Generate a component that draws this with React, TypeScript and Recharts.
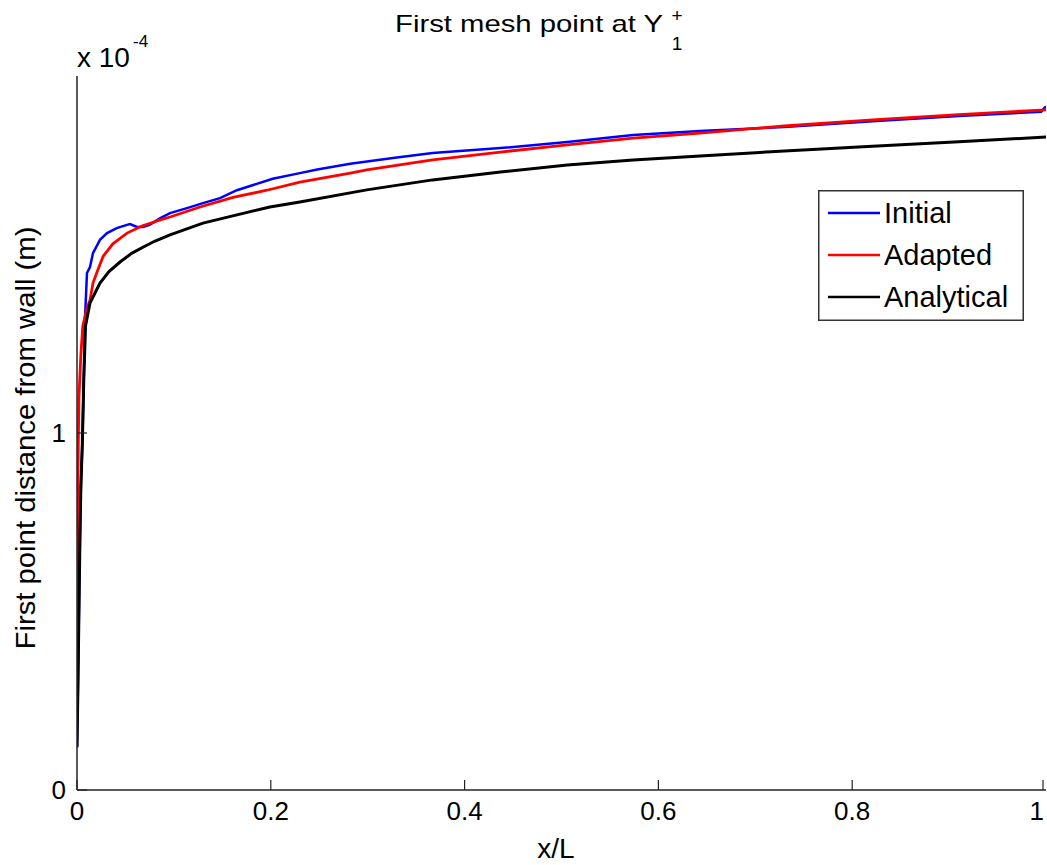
import React from "react";
import { LineChart, Line, XAxis, YAxis, Legend } from "recharts";

// ----- data (y in units of 1e-4 m) -----
const initialX = [0, 0.001, 0.002, 0.003, 0.004, 0.0055, 0.007, 0.0083, 0.0103, 0.0134, 0.0165, 0.0237, 0.031, 0.041, 0.0516, 0.0547, 0.062, 0.068, 0.075, 0.086, 0.096, 0.1135, 0.13, 0.1476, 0.165, 0.202, 0.23, 0.248, 0.282, 0.33, 0.367, 0.437, 0.506, 0.574, 0.643, 0.73, 0.821, 0.91, 0.995, 1.0];
const initialY = [0.12, 0.3, 0.5, 0.7, 0.85, 0.97, 1.15, 1.325, 1.448, 1.465, 1.504, 1.541, 1.56, 1.574, 1.583, 1.585, 1.577, 1.577, 1.583, 1.602, 1.616, 1.63, 1.644, 1.658, 1.68, 1.712, 1.728, 1.738, 1.754, 1.772, 1.784, 1.798, 1.815, 1.835, 1.846, 1.857, 1.873, 1.888, 1.9, 1.915];

const adaptedX = [0, 0.0005, 0.001, 0.002, 0.004, 0.006, 0.0103, 0.0134, 0.0165, 0.0206, 0.027, 0.037, 0.0516, 0.067, 0.086, 0.096, 0.127, 0.161, 0.196, 0.23, 0.282, 0.299, 0.367, 0.437, 0.506, 0.574, 0.643, 0.73, 0.821, 0.91, 1.0];
const adaptedY = [0.46, 0.6, 0.9, 1.1, 1.22, 1.3, 1.35, 1.372, 1.42, 1.45, 1.495, 1.53, 1.56, 1.58, 1.597, 1.605, 1.633, 1.66, 1.68, 1.703, 1.728, 1.737, 1.765, 1.787, 1.807, 1.826, 1.84, 1.86, 1.877, 1.892, 1.905];

const analyticalX = [0, 0.001, 0.002, 0.003, 0.004, 0.0055, 0.007, 0.0088, 0.0134, 0.0237, 0.033, 0.0444, 0.0568, 0.07, 0.08, 0.096, 0.13, 0.165, 0.199, 0.23, 0.299, 0.367, 0.437, 0.506, 0.574, 0.643, 0.73, 0.821, 0.91, 1.0];
const analyticalY = [0.12, 0.3, 0.5, 0.7, 0.85, 0.97, 1.15, 1.3, 1.364, 1.42, 1.452, 1.479, 1.504, 1.523, 1.537, 1.555, 1.588, 1.611, 1.633, 1.647, 1.681, 1.709, 1.731, 1.751, 1.765, 1.776, 1.79, 1.803, 1.816, 1.829];

const xTicks = [0, 0.2, 0.4, 0.6, 0.8, 1];
const yTicks = [0, 1];

const seriesNames = ["Initial", "Adapted", "Analytical"];
const seriesColors = ["#0000ff", "#ff0000", "#000000"];

const toPoints = (xs: number[], ys: number[]) => xs.map((x, i) => ({ x, y: ys[i] }));

const initialData = toPoints(initialX, initialY);
const adaptedData = toPoints(adaptedX, adaptedY);
const analyticalData = toPoints(analyticalX, analyticalY);

const FONT = "'Liberation Sans', Arial, Helvetica, sans-serif";

// MATLAB style ticks: mark points inward, label below / left
const XTick = (props: any) => {
  const { x, y, payload, index } = props;
  const last = index === xTicks.length - 1;
  return (
    <g>
      <line x1={x} x2={x} y1={y} y2={y - 10} stroke="#222" strokeWidth={1.2} />
      <text
        x={last ? x + 1 : x}
        y={y + 30}
        textAnchor={last ? "end" : "middle"}
        fontFamily={FONT}
        fontSize={26}
        fill="#000"
      >
        {String(payload.value)}
      </text>
    </g>
  );
};

const YTick = (props: any) => {
  const { x, y, payload } = props;
  return (
    <g>
      <line x1={x} x2={x + 10} y1={y} y2={y} stroke="#222" strokeWidth={1.2} />
      <text x={x - 11} y={y + 9} textAnchor="end" fontFamily={FONT} fontSize={26} fill="#000">
        {String(payload.value)}
      </text>
    </g>
  );
};

const LegendBox = () => (
  <svg width={206} height={131} style={{ display: "block" }}>
    <rect x={0.75} y={0.75} width={204.5} height={129.5} fill="#fff" stroke="#333" strokeWidth={1.5} />
    {seriesNames.map((name, i) => (
      <g key={name}>
        <line x1={10} x2={62} y1={23 + i * 42} y2={23 + i * 42} stroke={seriesColors[i]} strokeWidth={2.5} />
        <text x={66} y={33 + i * 42} fontFamily={FONT} fontSize={29} fill="#000">
          {name}
        </text>
      </g>
    ))}
  </svg>
);

export default function App() {
  return (
    <div style={{ position: "absolute", left: 0, top: 0, width: 1047, height: 865, background: "#fff" }}>
      <LineChart width={1047} height={865} margin={{ top: 76, right: 1, bottom: 0, left: 0 }}>
        <XAxis
          type="number"
          dataKey="x"
          domain={[0, 1]}
          ticks={xTicks}
          allowDataOverflow
          height={75}
          tickSize={0}
          tickMargin={0}
          tickLine={false}
          axisLine={{ stroke: "#222", strokeWidth: 1.5 }}
          tick={<XTick />}
        />
        <YAxis
          type="number"
          domain={[0, 2]}
          ticks={yTicks}
          allowDataOverflow
          width={77}
          tickSize={0}
          tickMargin={0}
          tickLine={false}
          axisLine={{ stroke: "#222", strokeWidth: 1.5 }}
          tick={<YTick />}
        />
        <Legend
          layout="vertical"
          align="center"
          verticalAlign="middle"
          content={<LegendBox />}
          wrapperStyle={{ position: "absolute", left: 818, top: 190, width: 206, height: 131 }}
        />
        <Line data={initialData} dataKey="y" name={seriesNames[0]} type="linear" stroke={seriesColors[0]} strokeWidth={2.5} dot={false} activeDot={false} isAnimationActive={false} />
        <Line data={adaptedData} dataKey="y" name={seriesNames[1]} type="linear" stroke={seriesColors[1]} strokeWidth={2.8} dot={false} activeDot={false} isAnimationActive={false} />
        <Line data={analyticalData} dataKey="y" name={seriesNames[2]} type="linear" stroke={seriesColors[2]} strokeWidth={3} dot={false} activeDot={false} isAnimationActive={false} />
      </LineChart>
      <svg width={1047} height={865} style={{ position: "absolute", left: 0, top: 0, pointerEvents: "none" }}>
        <text x={395} y={32} fontFamily={FONT} fontSize={24} textLength={268} lengthAdjust="spacingAndGlyphs">
          First mesh point at Y
        </text>
        <text x={677} y={22} textAnchor="middle" fontFamily={FONT} fontSize={19}>+</text>
        <text x={677} y={50} textAnchor="middle" fontFamily={FONT} fontSize={19}>1</text>
        <text x={77} y={67} fontFamily={FONT} fontSize={28}>x 10</text>
        <text x={133} y={47} fontFamily={FONT} fontSize={17}>-4</text>
        <text
          x={35}
          y={438}
          textAnchor="middle"
          fontFamily={FONT}
          fontSize={28}
          textLength={423}
          lengthAdjust="spacingAndGlyphs"
          transform="rotate(-90 35 438)"
        >
          First point distance from wall (m)
        </text>
        <text x={556} y={858} textAnchor="middle" fontFamily={FONT} fontSize={28}>x/L</text>
      </svg>
    </div>
  );
}
